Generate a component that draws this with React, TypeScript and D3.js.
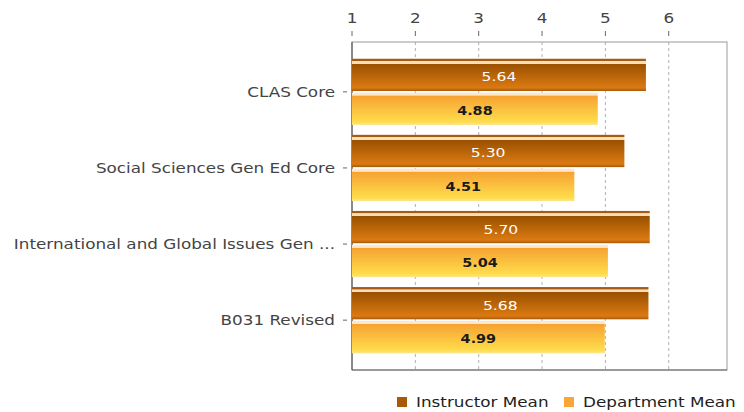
import React from "react";
import * as d3 from "d3";

// chart data
const categories = [
  "CLAS Core",
  "Social Sciences Gen Ed Core",
  "International and Global Issues Gen ...",
  "B031 Revised",
];
const seriesNames = ["Instructor Mean", "Department Mean"];
const instructorMean = [5.64, 5.3, 5.7, 5.68];
const departmentMean = [4.88, 4.51, 5.04, 4.99];
const xTicks = [1, 2, 3, 4, 5, 6];

const W = 744;
const H = 412;
const plot = { left: 352, right: 727, top: 42, bottom: 370 };
const font = "DejaVu Sans, sans-serif";
const SX = 1.2; // reference text is a bit wider than the font

// text stretched horizontally like the original image
const WideText = ({ x, y, anchor = "start", size = 14, fill = "#444", dy = "0", weight = "normal", children }: any) => (
  <text
    transform={`translate(${x},${y}) scale(${SX},1)`}
    dy={dy}
    textAnchor={anchor}
    fontFamily={font}
    fontSize={size}
    fontWeight={weight}
    fill={fill}
  >
    {children}
  </text>
);

const App = () => {
  const x = d3.scaleLinear().domain([1, 6.92]).range([plot.left, plot.right]);
  const y = d3
    .scaleBand<string>()
    .domain(categories)
    .range([plot.top, plot.bottom])
    .paddingInner(0.13)
    .paddingOuter(0.22);
  const ys = d3
    .scaleBand<string>()
    .domain(seriesNames)
    .range([0, y.bandwidth()])
    .paddingInner(0.05);

  const rows = categories.map((c, i) => ({
    cat: c,
    vals: [instructorMean[i], departmentMean[i]],
  }));

  return (
    <svg width={W} height={H} style={{ position: "absolute", left: 0, top: 0 }}>
      <defs>
        <linearGradient id="gInst" x1="0" y1="0" x2="0" y2="1">
          <stop offset="0" stopColor="#a45c14" />
          <stop offset="0.07" stopColor="#a45c14" />
          <stop offset="0.08" stopColor="#f6dfb8" />
          <stop offset="0.15" stopColor="#f6dfb8" />
          <stop offset="0.16" stopColor="#995000" />
          <stop offset="0.9" stopColor="#db7a12" />
          <stop offset="1" stopColor="#a65a0c" />
        </linearGradient>
        <linearGradient id="gDept" x1="0" y1="0" x2="0" y2="1">
          <stop offset="0" stopColor="#fde7c6" />
          <stop offset="0.08" stopColor="#fde7c6" />
          <stop offset="0.1" stopColor="#f6a232" />
          <stop offset="0.9" stopColor="#ffdc4c" />
          <stop offset="1" stopColor="#fbe58e" />
        </linearGradient>
      </defs>
      <rect width={W} height={H} fill="#fff" />

      {/* grid */}
      {xTicks.slice(1).map((t) => (
        <line
          key={t}
          x1={x(t)}
          x2={x(t)}
          y1={plot.top}
          y2={plot.bottom}
          stroke="#b0b0b0"
          strokeDasharray="3,3"
        />
      ))}

      {/* plot frame */}
      <rect
        x={plot.left}
        y={plot.top}
        width={plot.right - plot.left}
        height={plot.bottom - plot.top}
        fill="none"
        stroke="#9a9a9a"
      />
      <line x1={plot.left} x2={plot.left} y1={plot.top} y2={plot.bottom} stroke="#444" />
      <line x1={plot.left} x2={plot.right} y1={plot.bottom} y2={plot.bottom} stroke="#666" />

      {/* bars */}
      {rows.map((r) => (
        <g key={r.cat} transform={`translate(0,${y(r.cat)})`}>
          {r.vals.map((v, j) => {
            const by = ys(seriesNames[j])!;
            const bh = ys.bandwidth();
            return (
              <g key={j}>
                <rect
                  x={x(1)}
                  y={by}
                  width={x(v) - x(1)}
                  height={bh}
                  fill={j === 0 ? "url(#gInst)" : "url(#gDept)"}
                />
                <WideText
                  x={(x(1) + x(v)) / 2}
                  y={by + bh * 0.56}
                  dy="0.35em"
                  anchor="middle"
                  size={j === 0 ? 13 : 12}
                  weight={j === 0 ? "normal" : "bold"}
                  fill={j === 0 ? "#ffffff" : "#1a1a1a"}
                >
                  {v.toFixed(2)}
                </WideText>
              </g>
            );
          })}
        </g>
      ))}

      {/* category axis */}
      {categories.map((c) => {
        const cy = y(c)! + y.bandwidth() / 2;
        return (
          <g key={c}>
            <line x1={343} x2={347} y1={cy} y2={cy} stroke="#666" />
            <WideText x={335} y={cy} dy="0.35em" anchor="end" size={14} fill="#444">
              {c}
            </WideText>
          </g>
        );
      })}

      {/* value axis (top) */}
      {xTicks.map((t) => (
        <g key={t}>
          <line x1={x(t)} x2={x(t)} y1={31} y2={36} stroke="#666" />
          <WideText x={x(t)} y={23} anchor="middle" size={14} fill="#444">
            {t}
          </WideText>
        </g>
      ))}

      {/* legend */}
      {seriesNames.map((s, i) => {
        const lx = i === 0 ? 397 : 564;
        return (
          <g key={s}>
            <rect
              x={lx}
              y={397}
              width={10}
              height={10}
              fill={i === 0 ? "#a85a08" : "#fba43a"}
            />
            <WideText x={lx + 19} y={407} size={14} fill="#222">
              {s}
            </WideText>
          </g>
        );
      })}
    </svg>
  );
};

export default App;
